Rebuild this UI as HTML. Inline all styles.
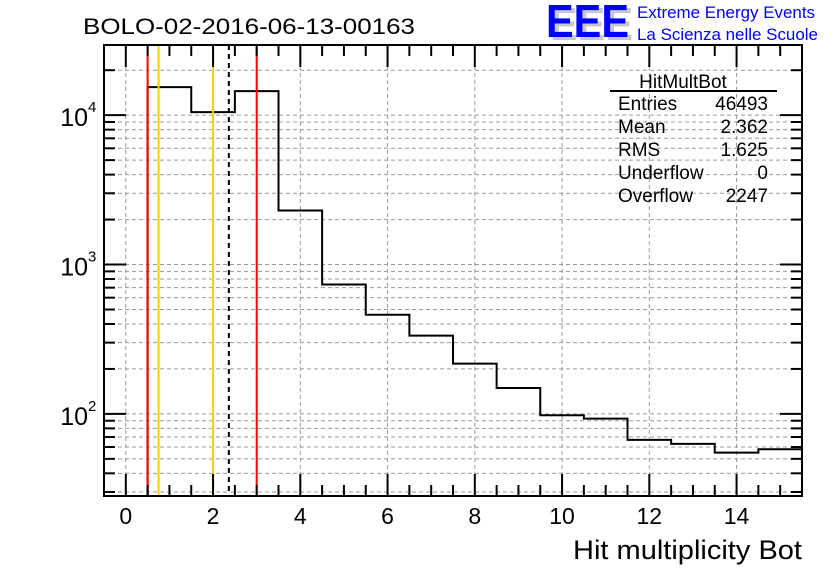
<!DOCTYPE html>
<html><head><meta charset="utf-8"><style>body{margin:0;background:#fff}svg{display:block;font-family:"Liberation Sans",Arial,sans-serif}</style></head>
<body>
<svg id="c" width="836" height="572" viewBox="0 0 836 572" xmlns="http://www.w3.org/2000/svg">
<rect width="836" height="572" fill="#fff"/>
<text x="83" y="34" font-size="22" textLength="332" lengthAdjust="spacingAndGlyphs">BOLO-02-2016-06-13-00163</text>
<g>
<text x="550" y="40" font-size="46" font-weight="bold" fill="#c8c8c8" textLength="83" lengthAdjust="spacingAndGlyphs">EEE</text>
<text x="546" y="37" font-size="46" font-weight="bold" fill="#0000ff" textLength="83" lengthAdjust="spacingAndGlyphs">EEE</text>
<text x="637" y="18" font-size="16.5" fill="#0000ff" textLength="178" lengthAdjust="spacingAndGlyphs">Extreme Energy Events</text>
<text x="637" y="40" font-size="16.5" fill="#0000ff" textLength="181" lengthAdjust="spacingAndGlyphs">La Scienza nelle Scuole</text>
</g>
<g id="grid"></g>
<g id="hist"></g>
<g id="axes"></g>
<g font-size="19">
<text x="683" y="88" text-anchor="middle">HitMultBot</text>
<line x1="610" y1="91" x2="777" y2="91" stroke="#000" stroke-width="2"/>
<text x="618" y="110">Entries</text><text x="768" y="110" text-anchor="end">46493</text>
<text x="618" y="133">Mean</text><text x="768" y="133" text-anchor="end">2.362</text>
<text x="618" y="156">RMS</text><text x="768" y="156" text-anchor="end">1.625</text>
<text x="618" y="179">Underflow</text><text x="768" y="179" text-anchor="end">0</text>
<text x="618" y="202">Overflow</text><text x="768" y="202" text-anchor="end">2247</text>
</g>
<text x="802" y="559" font-size="27" text-anchor="end" textLength="229" lengthAdjust="spacingAndGlyphs">Hit multiplicity Bot</text>
<script>
const binEdgesStart = -0.5;
const binCounts = [0, 15400, 10480, 14490, 2300, 735, 461, 334, 217, 149, 98, 93, 67, 63, 55, 58];
const xTickLabels = [0, 2, 4, 6, 8, 10, 12, 14];
const yDecades = [2, 3, 4];
const vLines = [
  {x: 0.5, c: "#ff0000", d: ""},
  {x: 3.0, c: "#ff0000", d: ""},
  {x: 0.75, c: "#ffcc00", d: ""},
  {x: 2.0, c: "#ffcc00", d: ""},
  {x: 2.362, c: "#000000", d: "5,4"}
];
const L=104,R=802,T=45,B=496, XMIN=-0.5, XMAX=15.5, LMIN=Math.log10(28.2), LMAX=Math.log10(29500);
const sx=v=>L+(v-XMIN)/(XMAX-XMIN)*(R-L);
const sy=v=>B-(Math.log10(v)-LMIN)/(LMAX-LMIN)*(B-T);
const NS="http://www.w3.org/2000/svg";
function mk(p,t,a){const e=document.createElementNS(NS,t);for(const k in a)e.setAttribute(k,a[k]);p.appendChild(e);return e;}
const grid=document.getElementById('grid'), hist=document.getElementById('hist'), axes=document.getElementById('axes');
for(const v of xTickLabels){const g=mk(grid,'line',{x1:sx(v),x2:sx(v),y1:T,y2:B,stroke:'#999',"stroke-dasharray":'4,3'});

}
for(let d=1;d<=4;d++)for(let m=1;m<10;m++){const v=m*Math.pow(10,d);if(v<28.2||v>29500)continue;
const g=mk(grid,'line',{x1:L,x2:R,y1:sy(v),y2:sy(v),stroke:'#999',"stroke-dasharray":'4,3'});

}
let pts=[];
binCounts.forEach((c,i)=>{const x0=binEdgesStart+i,x1=x0+1;if(c<=0){return;}
if(pts.length===0)pts.push([sx(x0),B]);
pts.push([sx(x0),sy(c)],[sx(x1),sy(c)]);});
const hp=mk(hist,'polyline',{points:pts.map(p=>p.join(',')).join(' '),fill:'none',stroke:'#000','stroke-width':2});


for(const l of vLines){const e=mk(hist,'line',{x1:sx(l.x),x2:sx(l.x),y1:T,y2:B,stroke:l.c,'stroke-width':2,'stroke-dasharray':l.d||'none'});

}
const fr=mk(axes,'rect',{x:L,y:T,width:R-L,height:B-T,fill:'none',stroke:'#000','stroke-width':2});


for(let v=0;v<=15.01;v+=0.5){const maj=Math.abs(v%2)<1e-6, len=maj?22:11;
mk(axes,'line',{x1:sx(v),x2:sx(v),y1:B,y2:B-len,stroke:'#000','stroke-width':2});
mk(axes,'line',{x1:sx(v),x2:sx(v),y1:T,y2:T+len,stroke:'#000','stroke-width':2});}
for(const v of xTickLabels){const t=mk(axes,'text',{x:sx(v),y:524,'font-size':23,'text-anchor':'middle'});t.textContent=v;

}
for(let d=1;d<=4;d++)for(let m=1;m<10;m++){const v=m*Math.pow(10,d);if(v<28.2||v>29500)continue;const len=m===1?22:11;
mk(axes,'line',{x1:L,x2:L+len,y1:sy(v),y2:sy(v),stroke:'#000','stroke-width':2});
mk(axes,'line',{x1:R,x2:R-len,y1:sy(v),y2:sy(v),stroke:'#000','stroke-width':2});}
for(const d of yDecades){const y=sy(Math.pow(10,d));
const t=mk(axes,'text',{x:88,y:y+11,'font-size':25,'text-anchor':'end'});t.textContent='10';


const s=mk(axes,'text',{x:88,y:y-3,'font-size':15});s.textContent=d;

}
</script>
</svg>
</body></html>
